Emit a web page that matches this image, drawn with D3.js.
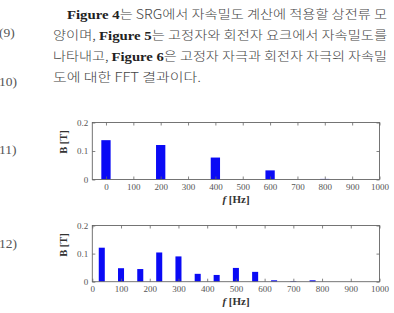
<!DOCTYPE html>
<html><head><meta charset="utf-8">
<script src="https://cdn.jsdelivr.net/npm/d3@7"></script>
<style>
html,body{margin:0;padding:0;background:#fff;}
svg{display:block;}
</style></head>
<body>
<script>
// ---- data ----
const paraLines = [
  [{t:"Figure 4",b:true},{t:"는 SRG에서 자속밀도 계산에 적용할 상전류 모"}],
  [{t:"양이며, "},{t:"Figure 5",b:true},{t:"는 고정자와 회전자 요크에서 자속밀도를"}],
  [{t:"나타내고, "},{t:"Figure 6",b:true},{t:"은 고정자 자극과 회전자 자극의 자속밀"}],
  [{t:"도에 대한 FFT 결과이다."}]
];
const eqNumbers = ["(9)", "10)", "11)", "12)"];

const freq1 = [0, 200, 400, 600, 800];
const val1  = [0.138, 0.121, 0.077, 0.032, 0.002];

const freq2 = [33, 100, 167, 233, 300, 367, 433, 500, 567, 633, 700, 767];
const val2  = [0.121, 0.048, 0.045, 0.104, 0.090, 0.028, 0.024, 0.049, 0.035, 0.005, 0.002, 0.005];

const xTicks = [0,100,200,300,400,500,600,700,800,900,1000];
const yTicks = [0, 0.1, 0.2];
const yLabel = "B [T]";

// ---- drawing ----
const W = 394, H = 313;
const svg = d3.select("body").append("svg").attr("width", W).attr("height", H);

// paragraph
const paraX = [67, 53, 53, 53];
const paraY = [19, 40, 61, 82];
const paraW = [320, 334, 334, 148];
paraLines.forEach((segs, i) => {
  const t = svg.append("text").attr("x", paraX[i]).attr("y", paraY[i])
    .attr("font-size", 12.5).attr("fill", "#3a3a3a")
    .attr("font-family", "'Noto Sans CJK KR', sans-serif");
  if (paraW[i]) t.attr("textLength", paraW[i]).attr("lengthAdjust", "spacingAndGlyphs");
  segs.forEach(s => {
    t.append("tspan").text(s.t)
      .attr("font-family", s.b ? "'Liberation Serif', serif" : "'Noto Sans CJK KR', sans-serif")
      .attr("font-weight", s.b ? "bold" : "300")
      .attr("font-size", s.b ? 13 : 12.5)
      .attr("fill", s.b ? "#222" : "#444");
  });
});

const eqY = [37, 86, 154, 248];
eqNumbers.forEach((s, i) => {
  svg.append("text").attr("x", -1).attr("y", eqY[i]).text(s)
    .attr("font-family", "'Liberation Serif', serif").attr("font-size", 13.5).attr("fill", "#555");
});

function chart(cfg) {
  const {x0, x1, top, bottom, domain, freqs, vals, barW, xLabY, yLabelY} = cfg;
  const x = d3.scaleLinear().domain(domain).range([x0, x1]);
  const y = d3.scaleLinear().domain([0, 0.2]).range([bottom, top]);
  const g = svg.append("g");
  const ax = "#666";
  // bars
  g.selectAll("rect.bar").data(freqs).join("rect")
    .attr("x", (d) => x(d - barW/2))
    .attr("width", x(barW) - x(0))
    .attr("y", (d, i) => y(vals[i]))
    .attr("height", (d, i) => y(0) - y(vals[i]))
    .attr("fill", "#0a0af5");
  // box
  g.append("rect").attr("x", x0).attr("y", top).attr("width", x1 - x0).attr("height", bottom - top)
    .attr("fill", "none").attr("stroke", ax).attr("stroke-width", 0.9);
  // x axis bottom with inward ticks
  const xb = d3.axisBottom(x).tickValues(xTicks).tickSize(-3).tickPadding(6).tickFormat(d3.format("d"));
  const gx = g.append("g").attr("transform", `translate(0,${bottom})`).call(xb);
  const xt = d3.axisTop(x).tickValues(xTicks).tickSize(-3).tickFormat("");
  const gxt = g.append("g").attr("transform", `translate(0,${top})`).call(xt);
  const yl = d3.axisLeft(y).tickValues(yTicks).tickSize(-3).tickPadding(4).tickFormat(d => d === 0 ? "0" : d3.format(".1f")(d));
  const gy = g.append("g").attr("transform", `translate(${x0},0)`).call(yl);
  const yr = d3.axisRight(y).tickValues(yTicks).tickSize(-3).tickFormat("");
  const gyr = g.append("g").attr("transform", `translate(${x1},0)`).call(yr);
  [gx, gxt, gy, gyr].forEach(a => {
    a.select(".domain").remove();
    a.selectAll("line").attr("stroke", ax).attr("stroke-width", 0.8);
    a.selectAll("text").attr("font-family", "'Liberation Serif', serif").attr("font-size", 9).attr("fill", "#555");
  });
  gx.selectAll("text").attr("dy", "0.5em");
  // axis labels
  svg.append("text").attr("transform", `translate(67,${yLabelY}) rotate(-90)`)
    .attr("text-anchor", "middle").attr("font-family", "'Liberation Serif', serif")
    .attr("font-weight", "bold").attr("font-size", 10.5).attr("fill", "#333").text(yLabel);
  const xl = svg.append("text").attr("x", 236).attr("y", xLabY).attr("text-anchor", "middle")
    .attr("font-family", "'Liberation Serif', serif").attr("font-weight", "bold").attr("font-size", 11).attr("fill", "#333");
  xl.append("tspan").attr("font-style", "italic").text("f");
  xl.append("tspan").text(" [Hz]");
}

chart({x0: 92.3, x1: 379.5, top: 122.5, bottom: 179.5, domain: [-50, 1000],
  freqs: freq1, vals: val1, barW: 34, xLabY: 203, yLabelY: 142});
chart({x0: 92.3, x1: 379.5, top: 225.5, bottom: 281.7, domain: [0, 1000],
  freqs: freq2, vals: val2, barW: 21, xLabY: 305, yLabelY: 245});
</script>
</body></html>
